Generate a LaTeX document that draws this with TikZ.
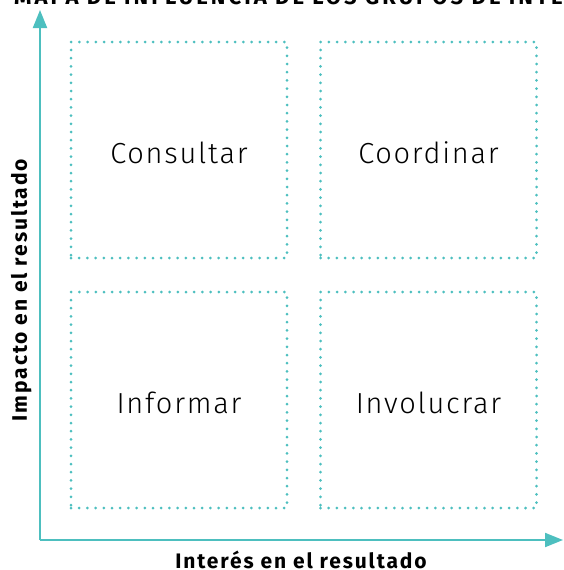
\documentclass[tikz,border=0pt]{standalone}
\usepackage{fontspec}
\setmainfont{Fira Sans}
\newfontfamily\labelfont{Fira Sans}[LetterSpace=9]
\newfontfamily\titlefont{Fira Sans}[LetterSpace=14]
\newfontfamily\boxfont{Fira Sans Light}[LetterSpace=6]
\usetikzlibrary{arrows.meta}
\definecolor{mapteal}{HTML}{4DBFBF}
\begin{document}
\begin{tikzpicture}
      [x=1pt, y=-1pt,
      axis/.style={draw=mapteal, line width=2pt, -{Triangle[length=18pt,width=14pt]}},
      quad/.style={draw=mapteal, line width=3pt, line cap=round,
        dash pattern=on 0pt off 8.2pt, minimum width=216pt, minimum height=216pt,
        inner sep=0pt, text height=26pt, text depth=0pt,
        font=\boxfont\fontsize{29}{34}\selectfont},
      axislabel/.style={font=\labelfont\bfseries\fontsize{21}{24}\selectfont, inner sep=0pt},
      ]
      \useasboundingbox (0,0) rectangle (563,570);
      \clip (0,0) rectangle (563,570);
      \node[inner sep=0pt, anchor=base west, font=\titlefont\bfseries\fontsize{22}{26}\selectfont]
        (title) at (14,5) {MAPA DE INFLUENCIA DE LOS GRUPOS DE INTERÉS};
      \coordinate (origin) at (40,540);
      \coordinate (ytip) at (40,10);
      \coordinate (xtip) at (563,540);
      \draw[axis] (origin) -- (ytip);
      \draw[axis] (origin) -- (xtip);
      \node[quad] (consultar) at (179,150) {Consultar};
      \node[quad] (coordinar) at (428.5,150) {Coordinar};
      \node[quad] (informar) at (179,400) {Informar};
      \node[quad] (involucrar) at (428.5,400) {Involucrar};
      \node[axislabel, rotate=90, anchor=base] (impacto) at (27,290) {Impacto en el resultado};
      \node[axislabel, anchor=base] (interes) at (301,568) {Interés en el resultado};
      \end{tikzpicture}
\end{document}
